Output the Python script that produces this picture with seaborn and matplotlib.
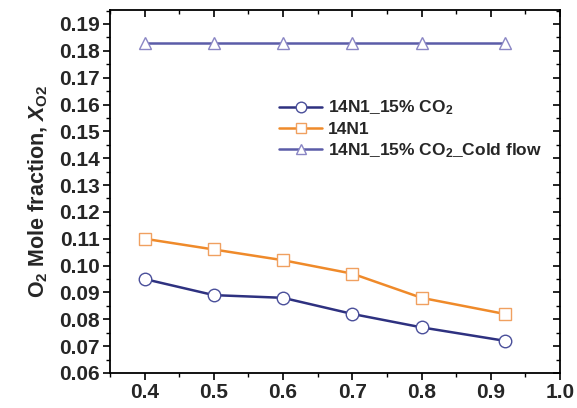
import matplotlib
matplotlib.use("Agg")
import matplotlib.pyplot as plt
from matplotlib.ticker import MultipleLocator
import seaborn as sns
import pandas as pd

x_vals = [0.4, 0.5, 0.6, 0.7, 0.8, 0.92]
co2_15 = [0.095, 0.089, 0.088, 0.082, 0.077, 0.072]
n14 = [0.110, 0.106, 0.102, 0.097, 0.088, 0.082]
cold_flow = [0.183, 0.183, 0.183, 0.183, 0.183, 0.183]
labels = ["14N1_15% CO$_2$", "14N1", "14N1_15% CO$_2$_Cold flow"]
x_ticks = [0.4, 0.5, 0.6, 0.7, 0.8, 0.9, 1.0]
y_ticks = [0.06, 0.07, 0.08, 0.09, 0.10, 0.11, 0.12, 0.13, 0.14, 0.15, 0.16, 0.17, 0.18, 0.19]

sns.set_theme(style="ticks")
plt.rcParams["font.family"] = ["Liberation Sans", "DejaVu Sans"]
plt.rcParams["font.weight"] = "bold"
plt.rcParams["mathtext.fontset"] = "custom"
plt.rcParams["mathtext.rm"] = "Liberation Sans:bold"
plt.rcParams["mathtext.it"] = "Liberation Sans:bold:italic"
plt.rcParams["mathtext.bf"] = "Liberation Sans:bold"

df = pd.concat([
    pd.DataFrame({"x": x_vals, "y": co2_15, "series": labels[0]}),
    pd.DataFrame({"x": x_vals, "y": n14, "series": labels[1]}),
    pd.DataFrame({"x": x_vals, "y": cold_flow, "series": labels[2]}),
])

fig = plt.figure(figsize=(5.77, 4.08), dpi=100)
ax = fig.add_axes([0.1906, 0.0858, 0.7799, 0.8897])

colors = {labels[0]: "#2e3180", labels[1]: "#ef8a2a", labels[2]: "#5b5ca8"}
edge = {labels[0]: "#4a4f9a", labels[1]: "#f0a060", labels[2]: "#8a86c4"}
markers = {labels[0]: "o", labels[1]: "s", labels[2]: "^"}

for lab in labels:
    sub = df[df["series"] == lab]
    sns.lineplot(data=sub, x="x", y="y", ax=ax, color=colors[lab], lw=1.8,
                 marker=markers[lab], markersize=9, markerfacecolor="white",
                 markeredgecolor=edge[lab], markeredgewidth=1.0, label=lab)

ax.set_xlim(0.35, 1.0)
ax.set_ylim(0.06, 0.1952)
ax.set_xticks(x_ticks)
ax.set_yticks(y_ticks)
ax.set_xticklabels([f"{v:.1f}" for v in x_ticks])
ax.set_yticklabels([f"{v:.2f}" for v in y_ticks])
ax.xaxis.set_minor_locator(MultipleLocator(0.05))
ax.yaxis.set_minor_locator(MultipleLocator(0.005))
ax.tick_params(axis="both", which="major", labelsize=15, length=5, width=1.2, color="black", pad=2.5)
ax.tick_params(axis="both", which="minor", length=3, width=1.0, color="black")
ax.tick_params(axis="x", which="both", top=True, direction="out")
ax.tick_params(axis="y", which="both", right=True, direction="out")
for t in ax.get_xticklabels() + ax.get_yticklabels():
    t.set_fontweight("bold")
for tk in ax.xaxis.get_major_ticks() + ax.xaxis.get_minor_ticks():
    tk.tick2line.set_marker(3)
for tk in ax.yaxis.get_major_ticks() + ax.yaxis.get_minor_ticks():
    tk.tick2line.set_marker(0)
for s in ax.spines.values():
    s.set_linewidth(1.3)
    s.set_color("black")

ax.set_xlabel("")
ax.set_ylabel(r"O$_2$ Mole fraction, $X_{\mathrm{O2}}$", fontsize=15.5, fontweight="bold", labelpad=6)

leg = ax.legend(loc="upper left", bbox_to_anchor=(0.36, 0.775), frameon=False,
                fontsize=12.5, handlelength=2.5, labelspacing=0.25, handletextpad=0.3,
                borderaxespad=0, markerscale=0.85)
for t in leg.get_texts():
    t.set_fontweight("bold")

fig.savefig("out.png", dpi=100)
